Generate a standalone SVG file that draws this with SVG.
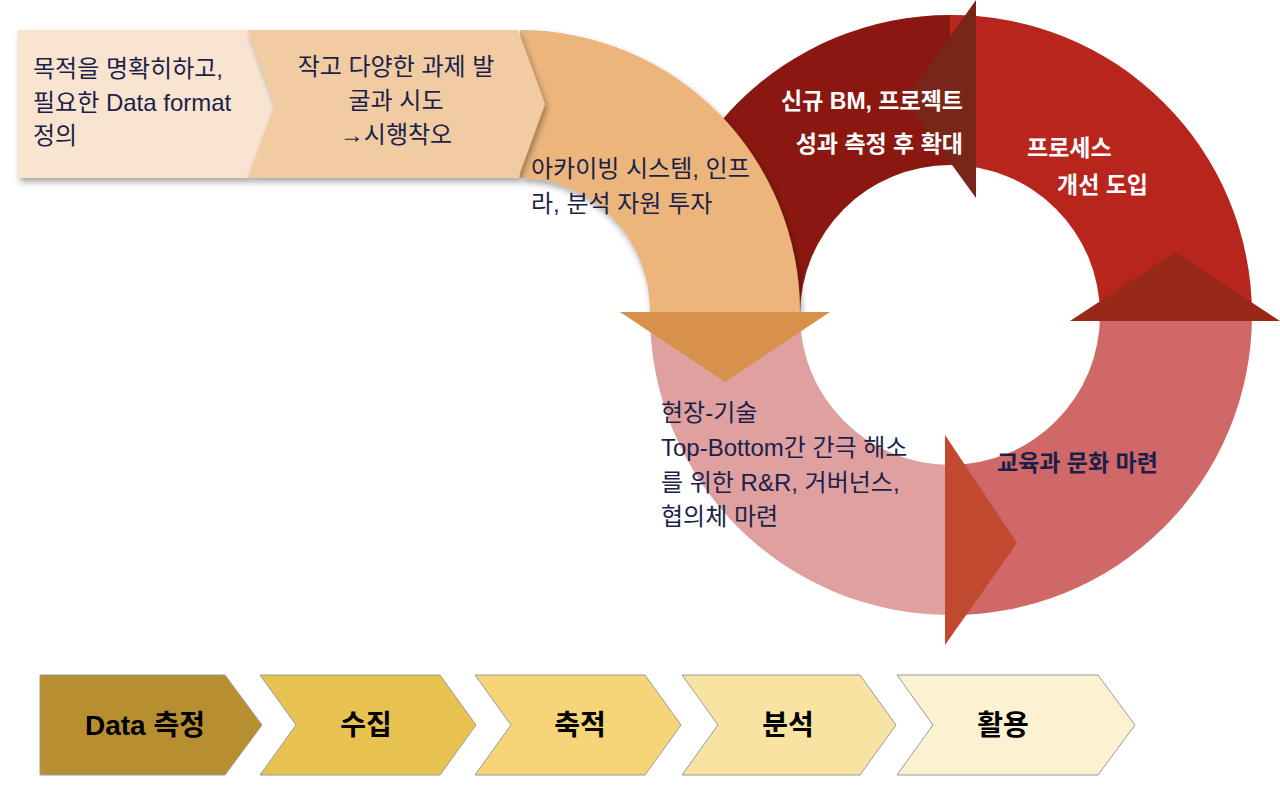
<svg xmlns="http://www.w3.org/2000/svg" width="1280" height="798" viewBox="0 0 1280 798">
<defs>
<style>
.t{font-family:"Liberation Sans","Noto Sans CJK KR",sans-serif;fill:#1B1F4A;font-size:24px}
.w{font-family:"Liberation Sans","Noto Sans CJK KR",sans-serif;fill:#fff;font-size:23px;font-weight:bold}
.b{font-family:"Liberation Sans","Noto Sans CJK KR",sans-serif;fill:#000;font-size:28px;font-weight:bold;text-anchor:middle}
.c{stroke:#9a9a9a;stroke-width:1}
</style>
<filter id="sh" x="-10%" y="-10%" width="130%" height="140%"><feDropShadow dx="2" dy="4" stdDeviation="3" flood-color="#000" flood-opacity="0.35"/></filter>
</defs>
<rect width="1280" height="798" fill="#fff"/>
<g id="ring">
<path d="M650,315 A300,300 0 0 1 950,15 L950,165 A150,150 0 0 0 800,315 Z" fill="#8A1810"/>
<path d="M950,15 A300,300 0 0 1 1252,315 L1100,315 A150,150 0 0 0 950,165 Z" fill="#B8251D"/>
<path d="M1252,315 A300,300 0 0 1 950,615 L950,465 A150,150 0 0 0 1100,315 Z" fill="#D06868"/>
<path d="M950,615 A300,300 0 0 1 650,315 L800,315 A150,150 0 0 0 950,465 Z" fill="#DFA0A0"/>
</g>
<g id="orange-band">
<path d="M520,30 A280,282 0 0 1 800,312 L650,312 A130,134 0 0 0 520,178 Z" fill="#EBB57C" filter="url(#sh)"/>
</g>
<g id="box1"><path d="M18,30 L248,30 L275,104 L248,178 L18,178 Z" fill="#F8E4CF" filter="url(#sh)"/></g>
<g id="box2"><path d="M248,30 L518,30 L545,104 L518,178 L248,178 L275,104 Z" fill="#F1CBA2" filter="url(#sh)"/></g>
<g id="connectors">
<path d="M620,312 L830,312 L725,382 Z" fill="#D8914B"/>
<path d="M945,435 L1017,543 L945,645 Z" fill="#C0492F"/>
<path d="M1070,321 L1175,252 L1280,321 Z" fill="#982818"/>
<path d="M976,0 L976,198 L905,100 Z" fill="#78261A"/>
</g>
<g id="labels">
<text class="t"><tspan x="33" y="77">목적을 명확히하고,</tspan><tspan x="33" y="111">필요한 Data format</tspan><tspan x="33" y="144">정의</tspan></text>
<text class="t" text-anchor="middle"><tspan x="396" y="75">작고 다양한 과제 발</tspan><tspan x="396" y="109">굴과 시도</tspan><tspan x="396" y="143">→시행착오</tspan></text>
<text class="t"><tspan x="531" y="177">아카이빙 시스템, 인프</tspan><tspan x="531" y="212">라, 분석 자원 투자</tspan></text>
<text class="w" text-anchor="end"><tspan x="963" y="109">신규 BM, 프로젝트</tspan><tspan x="963" y="152">성과 측정 후 확대</tspan></text>
<text class="w"><tspan x="1027" y="156">프로세스</tspan><tspan x="1057" y="193">개선 도입</tspan></text>
<text class="t"><tspan x="661" y="421">현장-기술</tspan><tspan x="661" y="456">Top-Bottom간 간극 해소</tspan><tspan x="661" y="491">를 위한 R&amp;R, 거버넌스,</tspan><tspan x="661" y="525">협의체 마련</tspan></text>
<text class="w" x="997" y="471" style="fill:#1B1F4A">교육과 문화 마련</text>
</g>
<g id="steps">
<g id="s1"><path class="c" d="M40,675 L225,675 L262,725 L225,775 L40,775 Z" fill="#B88F30"/><text class="b" x="145" y="735">Data 측정</text></g>
<g id="s2"><path class="c" d="M260,675 L440,675 L476,725 L440,775 L260,775 L296,725 Z" fill="#E8C250"/><text class="b" x="366" y="735">수집</text></g>
<g id="s3"><path class="c" d="M475,675 L645,675 L681,725 L645,775 L475,775 L511,725 Z" fill="#F5D577"/><text class="b" x="580" y="735">축적</text></g>
<g id="s4"><path class="c" d="M682,675 L860,675 L896,725 L860,775 L682,775 L718,725 Z" fill="#F8E3A2"/><text class="b" x="788" y="735">분석</text></g>
<g id="s5"><path class="c" d="M897,675 L1098,675 L1135,725 L1098,775 L897,775 L933,725 Z" fill="#FCF2D2"/><text class="b" x="1003" y="735">활용</text></g>
</g>
</svg>
